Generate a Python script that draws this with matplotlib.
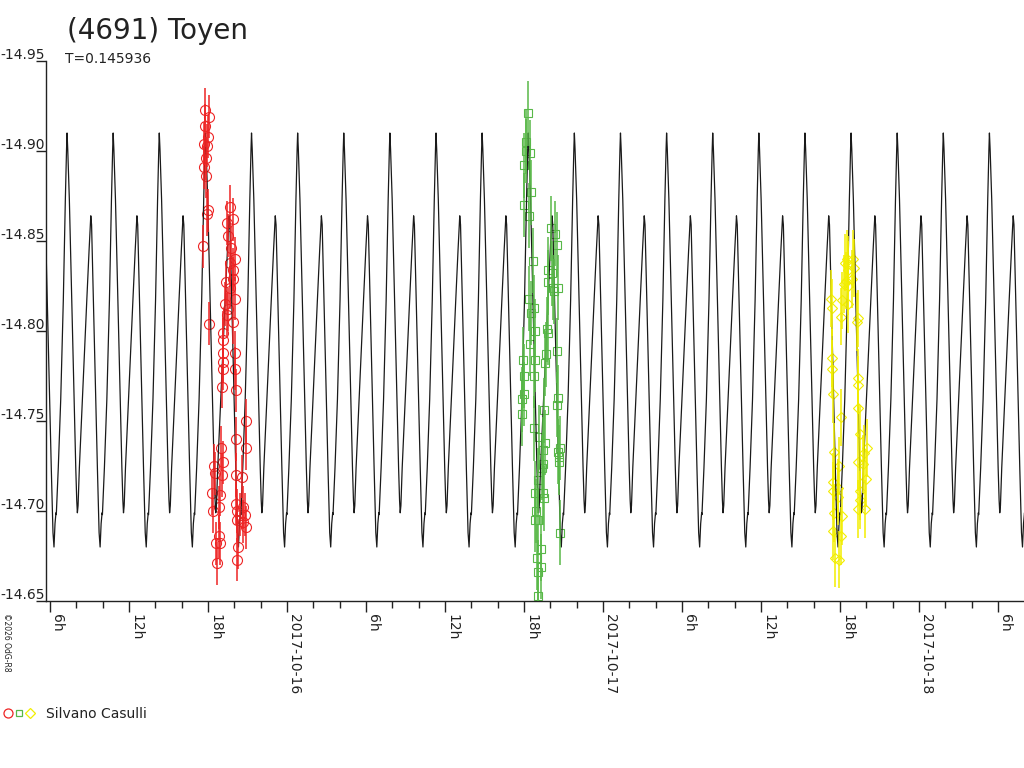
import numpy as np
import matplotlib
matplotlib.use("Agg")
import matplotlib.pyplot as plt
import matplotlib.dates as mdates
import matplotlib.transforms as mtransforms
from matplotlib.ticker import FuncFormatter, FixedLocator
from matplotlib.lines import Line2D
from matplotlib.legend_handler import HandlerTuple

# ---------------- data ----------------
title = "(4691) Toyen"
period_days = 0.145936
base_date = "2017-10-15T00:00:00"

# model light curve: one period template (phase from the deeper minimum, magnitude)
tmpl_phase = [0.000, 0.022, 0.043, 0.050, 0.093, 0.146, 0.202, 0.246, 0.272, 0.283,
              0.298, 0.333, 0.385, 0.435, 0.472, 0.493, 0.507, 0.522, 0.550, 0.615,
              0.711, 0.761, 0.798, 0.815, 0.854, 0.907, 0.941, 0.978]
tmpl_mag = [-14.680, -14.693, -14.699, -14.698, -14.724, -14.762, -14.817, -14.873, -14.901, -14.910,
            -14.901, -14.873, -14.817, -14.762, -14.724, -14.706, -14.699, -14.703, -14.724, -14.762,
            -14.817, -14.845, -14.864, -14.859, -14.817, -14.762, -14.724, -14.688]
epoch_hours = 6.304          # hours after 2017-10-15 00:00 of a deep minimum
cycles = list(range(-1, 23))

# observations, hours after 2017-10-15 00:00 and magnitudes
red_t = [17.77, 18.08, 17.77, 18.00, 17.70, 17.92, 17.85, 17.70, 17.85, 18.00, 17.92, 17.62, 18.08,
         19.67, 19.90, 19.44, 19.52, 19.75, 20.05, 19.67, 19.90, 19.90, 19.37, 19.67, 20.05, 19.29,
         19.52, 19.44, 19.90, 19.14,
         19.14, 19.14, 20.05, 19.14, 19.14, 20.05, 19.06, 20.13, 20.89, 20.13, 18.99, 20.89, 19.14,
         18.46, 18.53, 19.06, 20.13, 20.58, 18.30, 18.91, 20.13, 18.38, 18.84, 20.66, 20.20, 20.43,
         20.81, 20.66, 20.20, 20.89, 18.84, 18.61, 18.91, 20.28, 18.68, 20.20]
red_m = [-14.923, -14.919, -14.914, -14.908, -14.904, -14.903, -14.896, -14.891, -14.886, -14.867,
         -14.865, -14.847, -14.804,
         -14.869, -14.862, -14.860, -14.853, -14.846, -14.840, -14.838, -14.834, -14.829, -14.827,
         -14.824, -14.818, -14.815, -14.812, -14.809, -14.805, -14.799,
         -14.795, -14.788, -14.788, -14.783, -14.779, -14.779, -14.769, -14.767, -14.750, -14.740,
         -14.735, -14.735, -14.727, -14.725, -14.721, -14.720, -14.720, -14.719, -14.710, -14.709,
         -14.704, -14.700, -14.702, -14.702, -14.700, -14.698, -14.698, -14.694, -14.695, -14.691,
         -14.686, -14.682, -14.682, -14.680, -14.671, -14.673]
red_err = 0.012

green_t = [42.30, 42.15, 42.15, 42.46, 42.00, 42.53, 42.00, 42.38, 44.05, 44.35, 44.51, 42.68,
           43.82, 44.13, 43.82, 44.20, 44.58, 44.28, 42.38, 42.76, 42.53, 43.75, 42.84, 43.82,
           42.46, 44.51, 41.92, 42.84, 43.67, 43.59, 42.00, 42.76, 42.00, 41.85, 44.58, 44.51,
           41.85, 43.52, 42.76, 43.14, 43.60, 44.73, 43.44, 44.58, 44.66, 44.66, 43.44, 43.37,
           43.06, 42.84, 43.44, 43.52, 42.91, 42.84, 43.06, 44.73, 43.29, 42.99, 43.29, 43.06, 43.06]
green_m = [-14.921, -14.905, -14.900, -14.899, -14.892, -14.877, -14.870, -14.864, -14.857, -14.854,
           -14.848, -14.839, -14.834, -14.832, -14.827, -14.824, -14.824, -14.822, -14.818, -14.813,
           -14.810, -14.801, -14.800, -14.799, -14.793, -14.789, -14.784, -14.784, -14.787, -14.782,
           -14.775, -14.775, -14.765, -14.762, -14.763, -14.759, -14.754, -14.756, -14.746, -14.741,
           -14.738, -14.735, -14.734, -14.733, -14.730, -14.727, -14.726, -14.724, -14.717, -14.710,
           -14.710, -14.707, -14.700, -14.695, -14.695, -14.688, -14.679, -14.674, -14.669, -14.666,
           -14.653]
green_err = 0.018

yellow_t = [66.53, 66.99, 66.38, 66.61, 67.06, 66.61, 66.91, 66.46, 66.30, 66.61, 65.32, 66.15,
            66.61, 65.39, 66.08, 67.37, 67.29, 65.39, 65.39, 67.37, 67.37, 65.47, 67.37, 66.08,
            67.52, 65.54, 68.05, 67.82, 67.37, 67.75, 65.92, 67.98, 65.47, 65.85, 65.47, 67.52,
            65.85, 67.52, 67.37, 67.90, 65.54, 66.15, 65.47, 66.08, 65.62, 65.92]
yellow_m = [-14.840, -14.840, -14.838, -14.837, -14.835, -14.834, -14.829, -14.828, -14.826, -14.825,
            -14.818, -14.817, -14.815, -14.813, -14.808, -14.807, -14.805, -14.785, -14.779, -14.774,
            -14.770, -14.765, -14.757, -14.752, -14.743, -14.733, -14.735, -14.732, -14.727, -14.726,
            -14.725, -14.718, -14.716, -14.713, -14.711, -14.711, -14.708, -14.706, -14.701, -14.701,
            -14.699, -14.697, -14.689, -14.686, -14.674, -14.673]
yellow_err = 0.016

observer = "Silvano Casulli"
y_ticks = [-14.95, -14.90, -14.85, -14.80, -14.75, -14.70, -14.65]
x_start_hours = 5.697
x_end_hours = 79.97

# ---------------- helpers ----------------
base = np.datetime64(base_date, "ms")


def to_dt(hours):
    h = np.asarray(hours, dtype=float)
    return base + np.round(h * 3600000.0).astype("int64").astype("timedelta64[ms]")


period_h = period_days * 24.0
ph = np.asarray(tmpl_phase)
tm = np.asarray(tmpl_mag)
curve_h = np.concatenate([epoch_hours + (k + ph) * period_h for k in cycles])
curve_m = np.concatenate([tm for _ in cycles])

# ---------------- figure ----------------
plt.rcParams["font.family"] = ["DejaVu Sans"]
txt_col = "#222222"
fig = plt.figure(figsize=(10.24, 7.68), dpi=100)
ax = fig.add_axes([46 / 1024, 1 - 601 / 768, 1 - 46 / 1024, 540 / 768])

red_c = "#ee2424"
green_c = "#58b848"
yellow_c = "#f2ee00"

series = [
    (red_t, red_m, red_err, red_c, "o", 7.2),
    (green_t, green_m, green_err, green_c, "s", 5.6),
    (yellow_t, yellow_m, yellow_err, yellow_c, "D", 5.2),
]
for t, m, e, c, mk, ms in series:
    ax.plot(to_dt(t), m, ls="none", marker=mk, mfc="none", mec=c, ms=ms, mew=0.8, zorder=2)
    ax.errorbar(to_dt(t), m, yerr=e, fmt="none", ecolor=c, elinewidth=1.1, capsize=0, zorder=4)

ax.plot(to_dt(curve_h), curve_m, color="#1a1a1a", lw=0.9, zorder=3)

ax.set_xlim(to_dt([x_start_hours])[0], to_dt([x_end_hours])[0])
ax.set_ylim(y_ticks[-1], y_ticks[0])

for s in ("top", "right"):
    ax.spines[s].set_visible(False)
for s in ("left", "bottom"):
    ax.spines[s].set_linewidth(1.0)
    ax.spines[s].set_color(txt_col)

# x axis
ax.xaxis.set_major_locator(mdates.HourLocator(byhour=[0, 6, 12, 18]))
ax.xaxis.set_minor_locator(mdates.HourLocator(byhour=list(range(0, 24, 2))))


def xfmt(x, pos=None):
    d = mdates.num2date(x)
    if d.hour == 0:
        return d.strftime("%Y-%m-%d")
    return f"{d.hour}h"


ax.xaxis.set_major_formatter(FuncFormatter(xfmt))
ax.tick_params(axis="x", which="major", length=8, width=1.0, color=txt_col, pad=1.5,
               labelsize=10, labelcolor=txt_col, labelrotation=-90)
ax.tick_params(axis="x", which="minor", length=5, width=1.0, color=txt_col)
for lbl in ax.get_xticklabels():
    lbl.set_ha("left")
    lbl.set_va("top")

# y axis
ax.yaxis.set_major_locator(FixedLocator(y_ticks))
ax.tick_params(axis="y", which="major", length=7.2, width=1.0, color=txt_col, labelleft=False)
ax.yaxis.set_minor_locator(FixedLocator([]))
ytrans = mtransforms.blended_transform_factory(fig.transFigure, ax.transData)
for v in y_ticks:
    ax.annotate(f"{v:.2f}", xy=(0.0005, v), xycoords=ytrans, xytext=(0, 1.2),
                textcoords="offset points", ha="left", va="baseline", fontsize=10,
                color=txt_col, annotation_clip=False)

# texts
fig.text(67 / 1024, 1 - 39 / 768, title, fontsize=20, color=txt_col, ha="left", va="baseline")
fig.text(65 / 1024, 1 - 63 / 768, f"T={period_days}", fontsize=10, color=txt_col,
         ha="left", va="baseline")
fig.text(2 / 1024, 1 - 613 / 768, "©2026 OdG-R8", fontsize=5.5, color=txt_col, rotation=-90,
         ha="left", va="top")

# legend
h_r = Line2D([], [], ls="none", marker="o", mfc="none", mec=red_c, ms=6.5, mew=0.9)
h_g = Line2D([], [], ls="none", marker="s", mfc="none", mec=green_c, ms=5.0, mew=0.9)
h_y = Line2D([], [], ls="none", marker="D", mfc="none", mec=yellow_c, ms=4.6, mew=0.9)
fig.legend(handles=[(h_r, h_g, h_y)], labels=[observer],
           handler_map={tuple: HandlerTuple(ndivide=None, pad=0.0)},
           loc="center left", bbox_to_anchor=(2 / 1024, 1 - 714 / 768), frameon=False,
           handlelength=2.4, handletextpad=0.75, borderpad=0, borderaxespad=0,
           fontsize=10, labelcolor=txt_col)

fig.savefig("out.png", dpi=100)
